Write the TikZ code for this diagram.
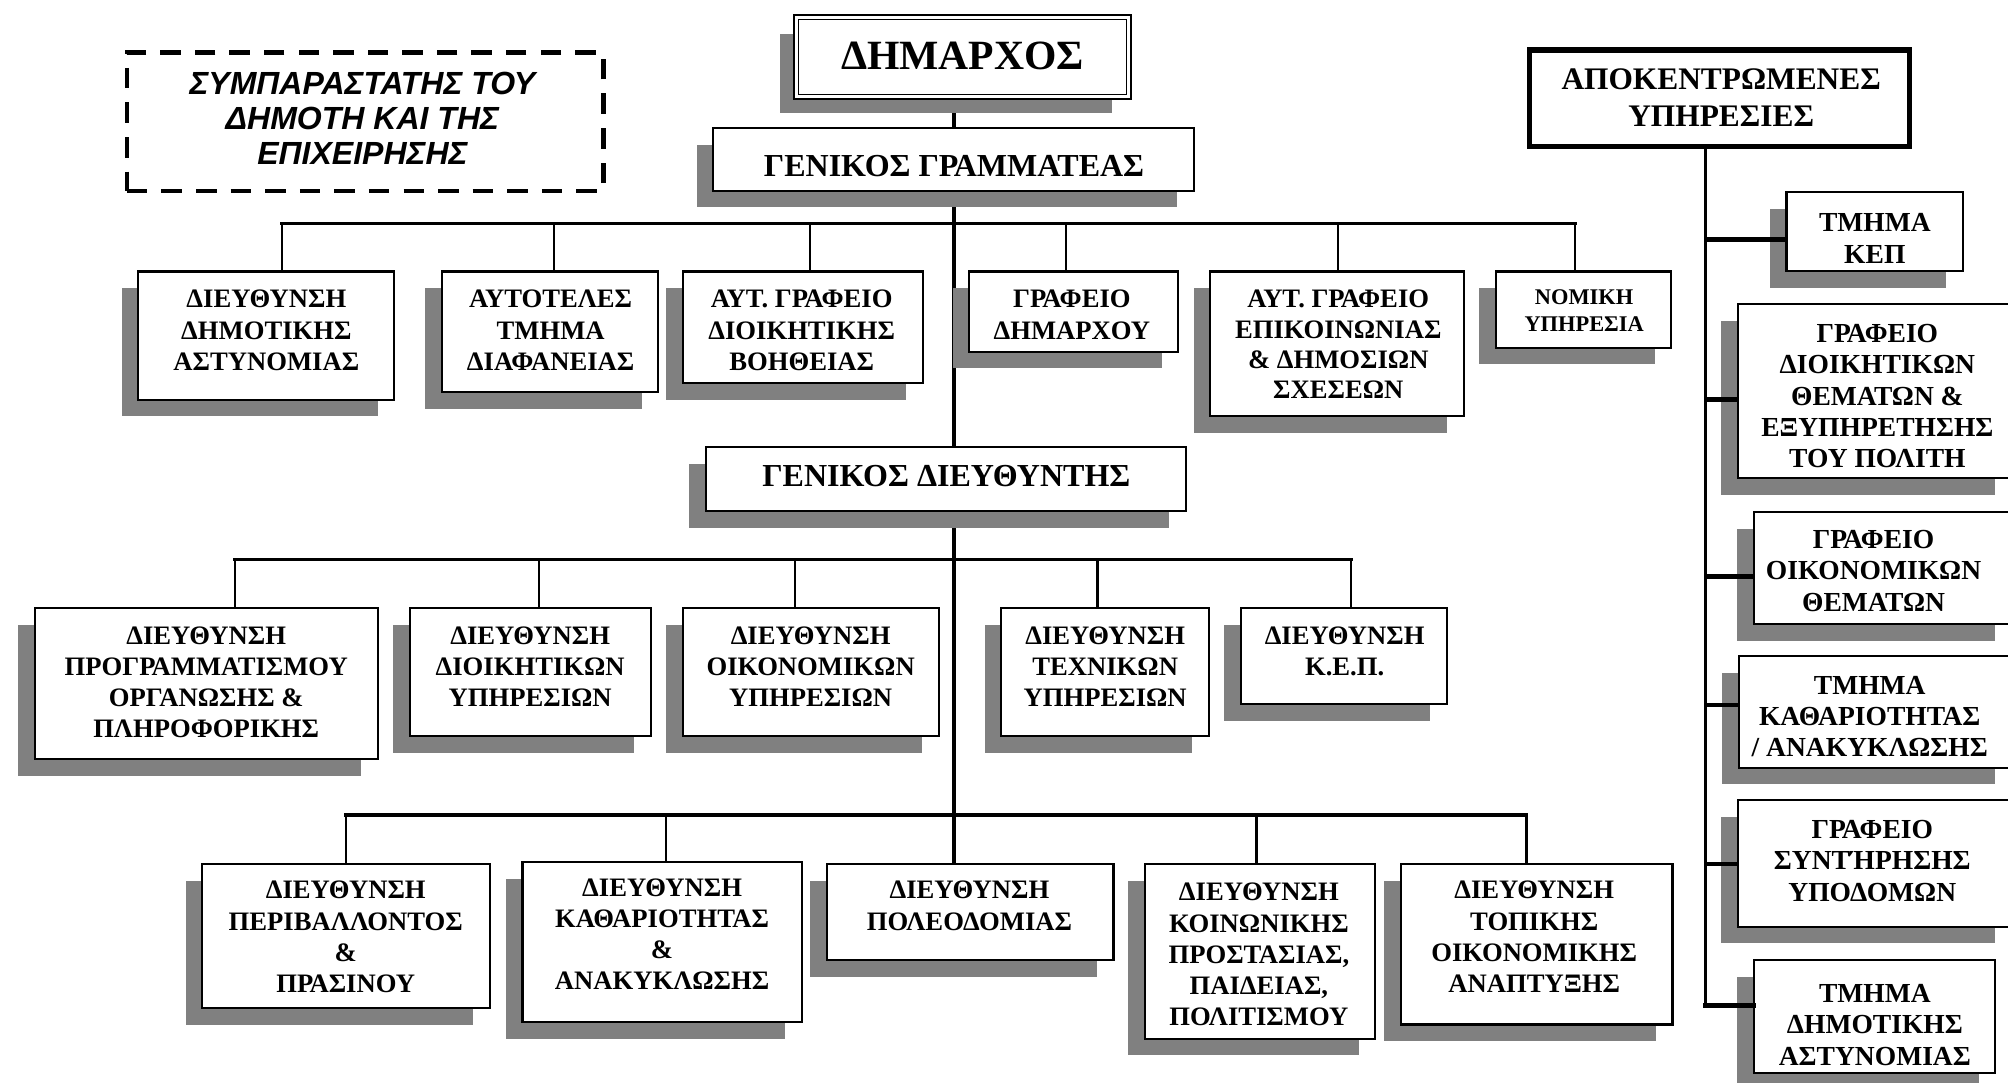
\documentclass[tikz,border=0pt]{standalone}
\usepackage{fontspec}
\setmainfont{Liberation Serif}
\newfontfamily\sympfont{Liberation Sans}
\usetikzlibrary{shadows}
\pgfdeclarelayer{bg}
\pgfdeclarelayer{lines}
\pgfsetlayers{bg,lines,main}
\definecolor{shgray}{HTML}{808080}
\tikzset{
  orgbox/.style={draw=black, line width=1.6pt, fill=white, rectangle, inner sep=0pt, outer sep=0pt, anchor=north west,
    drop shadow={shadow xshift=-13pt, shadow yshift=-13pt, fill=shgray, opacity=1}},
  boxtext/.style={inner sep=0pt, align=center, anchor=north},
  bus/.style={line width=2.8pt, line cap=rect},
  dropline/.style={line width=1.9pt},
  spine/.style={line width=2.6pt},
  branch/.style={line width=3.6pt},
}
\newcommand\rowfont{\bfseries\fontsize{20.8}{24.3}\selectfont}
\newcommand\rightfont{\bfseries\fontsize{21.5}{24.5}\selectfont}
\newcommand\obox[9][\rowfont]{%
  \node[orgbox, minimum width={#5-#3}, minimum height={#6-#4}] (#2) at (#3,#4) {};
  \node[boxtext, font=#1] (#2t) at (#7,#8) {#9};}
\begin{document}
\begin{tikzpicture}[x=1pt,y=-1pt]
\useasboundingbox (0,0) rectangle (1568,845);
\clip (0,0) rectangle (1568,845);
\begin{pgfonlayer}{bg}
\fill[white] (0,0) rectangle (1568,845);
\end{pgfonlayer}

% dashed box
\node[draw=black, line width=3.6pt, dash pattern=on 16pt off 11pt, rectangle, inner sep=0pt, anchor=north west,
      minimum width=372pt, minimum height=108pt] (symp) at (97.3,39.2) {};
\node[boxtext, font=\sympfont\bfseries\itshape\fontsize{25}{27.5}\selectfont] (sympt) at (283,56)
  {ΣΥΜΠΑΡΑΣΤΑΤΗΣ ΤΟΥ\\ΔΗΜΟΤΗ ΚΑΙ ΤΗΣ\\ΕΠΙΧΕΙΡΗΣΗΣ};

% mayor
\node[orgbox, line width=1.3pt, double=white, double distance=2.2pt, minimum width=259.4pt, minimum height=62.2pt] (dim) at (621.9,13.4) {};
\node[boxtext, font=\bfseries\fontsize{32.5}{36}\selectfont] (dimt) at (751.6,32.6) {ΔΗΜΑΡΧΟΣ};

\obox[\bfseries\fontsize{25}{28}\selectfont]{gg}{557}{100}{932}{149}{745}{121}{ΓΕΝΙΚΟΣ ΓΡΑΜΜΑΤΕΑΣ}
\obox[\bfseries\fontsize{25}{28}\selectfont]{gd}{551}{349}{926}{399}{739}{363.1}{ΓΕΝΙΚΟΣ ΔΙΕΥΘΥΝΤΗΣ}

% decentralised services
\node[draw=black, line width=4pt, fill=white, rectangle, inner sep=0pt, anchor=north west,
      minimum width=297pt, minimum height=75.5pt] (apok) at (1192,37) {};
\node[boxtext, font=\bfseries\fontsize{24.5}{28.8}\selectfont] (apokt) at (1344,53.7) {ΑΠΟΚΕΝΤΡΩΜΕΝΕΣ\\ΥΠΗΡΕΣΙΕΣ};

% row 1
\obox{A1}{108}{212}{308}{312}{208}{226.5}{ΔΙΕΥΘΥΝΣΗ\\ΔΗΜΟΤΙΚΗΣ\\ΑΣΤΥΝΟΜΙΑΣ}
\obox{A2}{345}{212}{514}{306}{430}{226.5}{ΑΥΤΟΤΕΛΕΣ\\ΤΜΗΜΑ\\ΔΙΑΦΑΝΕΙΑΣ}
\obox{A3}{533}{212}{720.5}{299.3}{626}{226.5}{ΑΥΤ. ΓΡΑΦΕΙΟ\\ΔΙΟΙΚΗΤΙΚΗΣ\\ΒΟΗΘΕΙΑΣ}
\obox{A4}{757}{212}{920}{274.6}{837}{226.5}{ΓΡΑΦΕΙΟ\\ΔΗΜΑΡΧΟΥ}
\obox[\bfseries\fontsize{20.8}{23.5}\selectfont]{A5}{945}{212}{1143}{324.8}{1045}{226.5}{ΑΥΤ. ΓΡΑΦΕΙΟ\\ΕΠΙΚΟΙΝΩΝΙΑΣ\\\& ΔΗΜΟΣΙΩΝ\\ΣΧΕΣΕΩΝ}
\obox[\bfseries\fontsize{17.5}{20.8}\selectfont]{A6}{1168}{212}{1305}{271.5}{1237}{226.3}{ΝΟΜΙΚΗ\\ΥΠΗΡΕΣΙΑ}

% row 2
\obox{B1}{27}{475}{295}{593}{161}{489}{ΔΙΕΥΘΥΝΣΗ\\ΠΡΟΓΡΑΜΜΑΤΙΣΜΟΥ\\ΟΡΓΑΝΩΣΗΣ \&\\ΠΛΗΡΟΦΟΡΙΚΗΣ}
\obox{B2}{320}{475}{508}{575}{414}{489}{ΔΙΕΥΘΥΝΣΗ\\ΔΙΟΙΚΗΤΙΚΩΝ\\ΥΠΗΡΕΣΙΩΝ}
\obox{B3}{533}{475}{733}{575}{633}{489}{ΔΙΕΥΘΥΝΣΗ\\ΟΙΚΟΝΟΜΙΚΩΝ\\ΥΠΗΡΕΣΙΩΝ}
\obox{B4}{782}{475}{944}{575}{863}{489}{ΔΙΕΥΘΥΝΣΗ\\ΤΕΧΝΙΚΩΝ\\ΥΠΗΡΕΣΙΩΝ}
\obox{B5}{969}{475}{1130}{550}{1050}{489}{ΔΙΕΥΘΥΝΣΗ\\Κ.Ε.Π.}

% row 3
\obox{C1}{158}{675}{382.5}{787}{270}{688}{ΔΙΕΥΘΥΝΣΗ\\ΠΕΡΙΒΑΛΛΟΝΤΟΣ\\\&\\ΠΡΑΣΙΝΟΥ}
\obox{C2}{408}{673}{626}{798}{517}{686}{ΔΙΕΥΘΥΝΣΗ\\ΚΑΘΑΡΙΟΤΗΤΑΣ\\\&\\ΑΝΑΚΥΚΛΩΣΗΣ}
\obox{C3}{645.5}{675}{869.5}{750}{757}{688}{ΔΙΕΥΘΥΝΣΗ\\ΠΟΛΕΟΔΟΜΙΑΣ}
\obox{C4}{894}{675}{1074}{811}{983}{689.5}{ΔΙΕΥΘΥΝΣΗ\\ΚΟΙΝΩΝΙΚΗΣ\\ΠΡΟΣΤΑΣΙΑΣ,\\ΠΑΙΔΕΙΑΣ,\\ΠΟΛΙΤΙΣΜΟΥ}
\obox{C5}{1094}{675}{1306}{800}{1198}{688}{ΔΙΕΥΘΥΝΣΗ\\ΤΟΠΙΚΗΣ\\ΟΙΚΟΝΟΜΙΚΗΣ\\ΑΝΑΠΤΥΞΗΣ}

% right column
\obox[\rightfont]{R1}{1395}{150}{1532.6}{211.6}{1464}{166.7}{ΤΜΗΜΑ\\ΚΕΠ}
\obox[\rightfont]{R2}{1357}{237.4}{1571}{373.4}{1466}{253}{ΓΡΑΦΕΙΟ\\ΔΙΟΙΚΗΤΙΚΩΝ\\ΘΕΜΑΤΩΝ \&\\ΕΞΥΠΗΡΕΤΗΣΗΣ\\ΤΟΥ ΠΟΛΙΤΗ}
\obox[\rightfont]{R3}{1369.7}{400}{1571}{487.3}{1463}{413.7}{ΓΡΑΦΕΙΟ\\ΟΙΚΟΝΟΜΙΚΩΝ\\ΘΕΜΑΤΩΝ}
\obox[\rightfont]{R4}{1358}{512.3}{1571}{599.5}{1460}{527.7}{ΤΜΗΜΑ\\ΚΑΘΑΡΙΟΤΗΤΑΣ\\/ ΑΝΑΚΥΚΛΩΣΗΣ}
\obox[\rightfont]{R5}{1357}{624.7}{1571}{723.6}{1462}{640.3}{ΓΡΑΦΕΙΟ\\ΣΥΝΤΉΡΗΣΗΣ\\ΥΠΟΔΟΜΩΝ}
\obox[\rightfont]{R6}{1369.7}{749.7}{1558}{837.6}{1464}{768.4}{ΤΜΗΜΑ\\ΔΗΜΟΤΙΚΗΣ\\ΑΣΤΥΝΟΜΙΑΣ}

% junction coordinates
\coordinate (sp) at (745,0);
\coordinate (j11) at (220,174.5);
\coordinate (j12) at (432.5,174.5);
\coordinate (j13) at (632.5,174.5);
\coordinate (j14) at (832.5,174.5);
\coordinate (j15) at (1045,174.5);
\coordinate (j16) at (1230,174.5);
\coordinate (j21) at (183.5,437);
\coordinate (j22) at (421,437);
\coordinate (j23) at (621,437);
\coordinate (j24) at (857,437);
\coordinate (j25) at (1055,437);
\coordinate (j31) at (270,636.5);
\coordinate (j32) at (520,636.5);
\coordinate (j34) at (981,636.5);
\coordinate (j35) at (1192,636.5);
\coordinate (r1) at (1332,187);
\coordinate (r2) at (1332,312);
\coordinate (r3) at (1332,450);
\coordinate (r4) at (1332,550.5);
\coordinate (r5) at (1332,674.7);
\coordinate (r6) at (1332,785);

\begin{pgfonlayer}{lines}
\draw[spine] (dim.south -| sp) -- (gg.north -| sp);
\draw[spine] (gg.south -| sp) -- (gd.north -| sp);
\draw[spine] (gd.south -| sp) -- (C3.north -| sp);
\draw[bus] (j11) -- (j16);
\draw[bus] (j21) -- (j25);
\draw[bus] (j31) -- (j35);
\draw[dropline] (j11) -- (A1.north -| j11);
\draw[dropline] (j12) -- (A2.north -| j12);
\draw[dropline] (j13) -- (A3.north -| j13);
\draw[dropline] (j14) -- (A4.north -| j14);
\draw[dropline] (j15) -- (A5.north -| j15);
\draw[dropline] (j16) -- (A6.north -| j16);
\draw[dropline] (j21) -- (B1.north -| j21);
\draw[dropline] (j22) -- (B2.north -| j22);
\draw[dropline] (j23) -- (B3.north -| j23);
\draw[dropline] (j24) -- (B4.north -| j24);
\draw[dropline] (j25) -- (B5.north -| j25);
\draw[dropline] (j31) -- (C1.north -| j31);
\draw[dropline] (j32) -- (C2.north -| j32);
\draw[dropline] (j34) -- (C4.north -| j34);
\draw[dropline] (j35) -- (C5.north -| j35);
\draw[spine] (apok.south -| r1) -- (r6);
\end{pgfonlayer}

\draw[branch] (r1) -- (R1.west |- r1);
\draw[branch] (r2) -- (R2.west |- r2);
\draw[branch] (r3) -- (R3.west |- r3);
\draw[branch] (r4) -- (R4.west |- r4);
\draw[branch] (r5) -- (R5.west |- r5);
\draw[branch, line cap=rect] (r6) -- (R6.west |- r6);
\end{tikzpicture}
\end{document}
